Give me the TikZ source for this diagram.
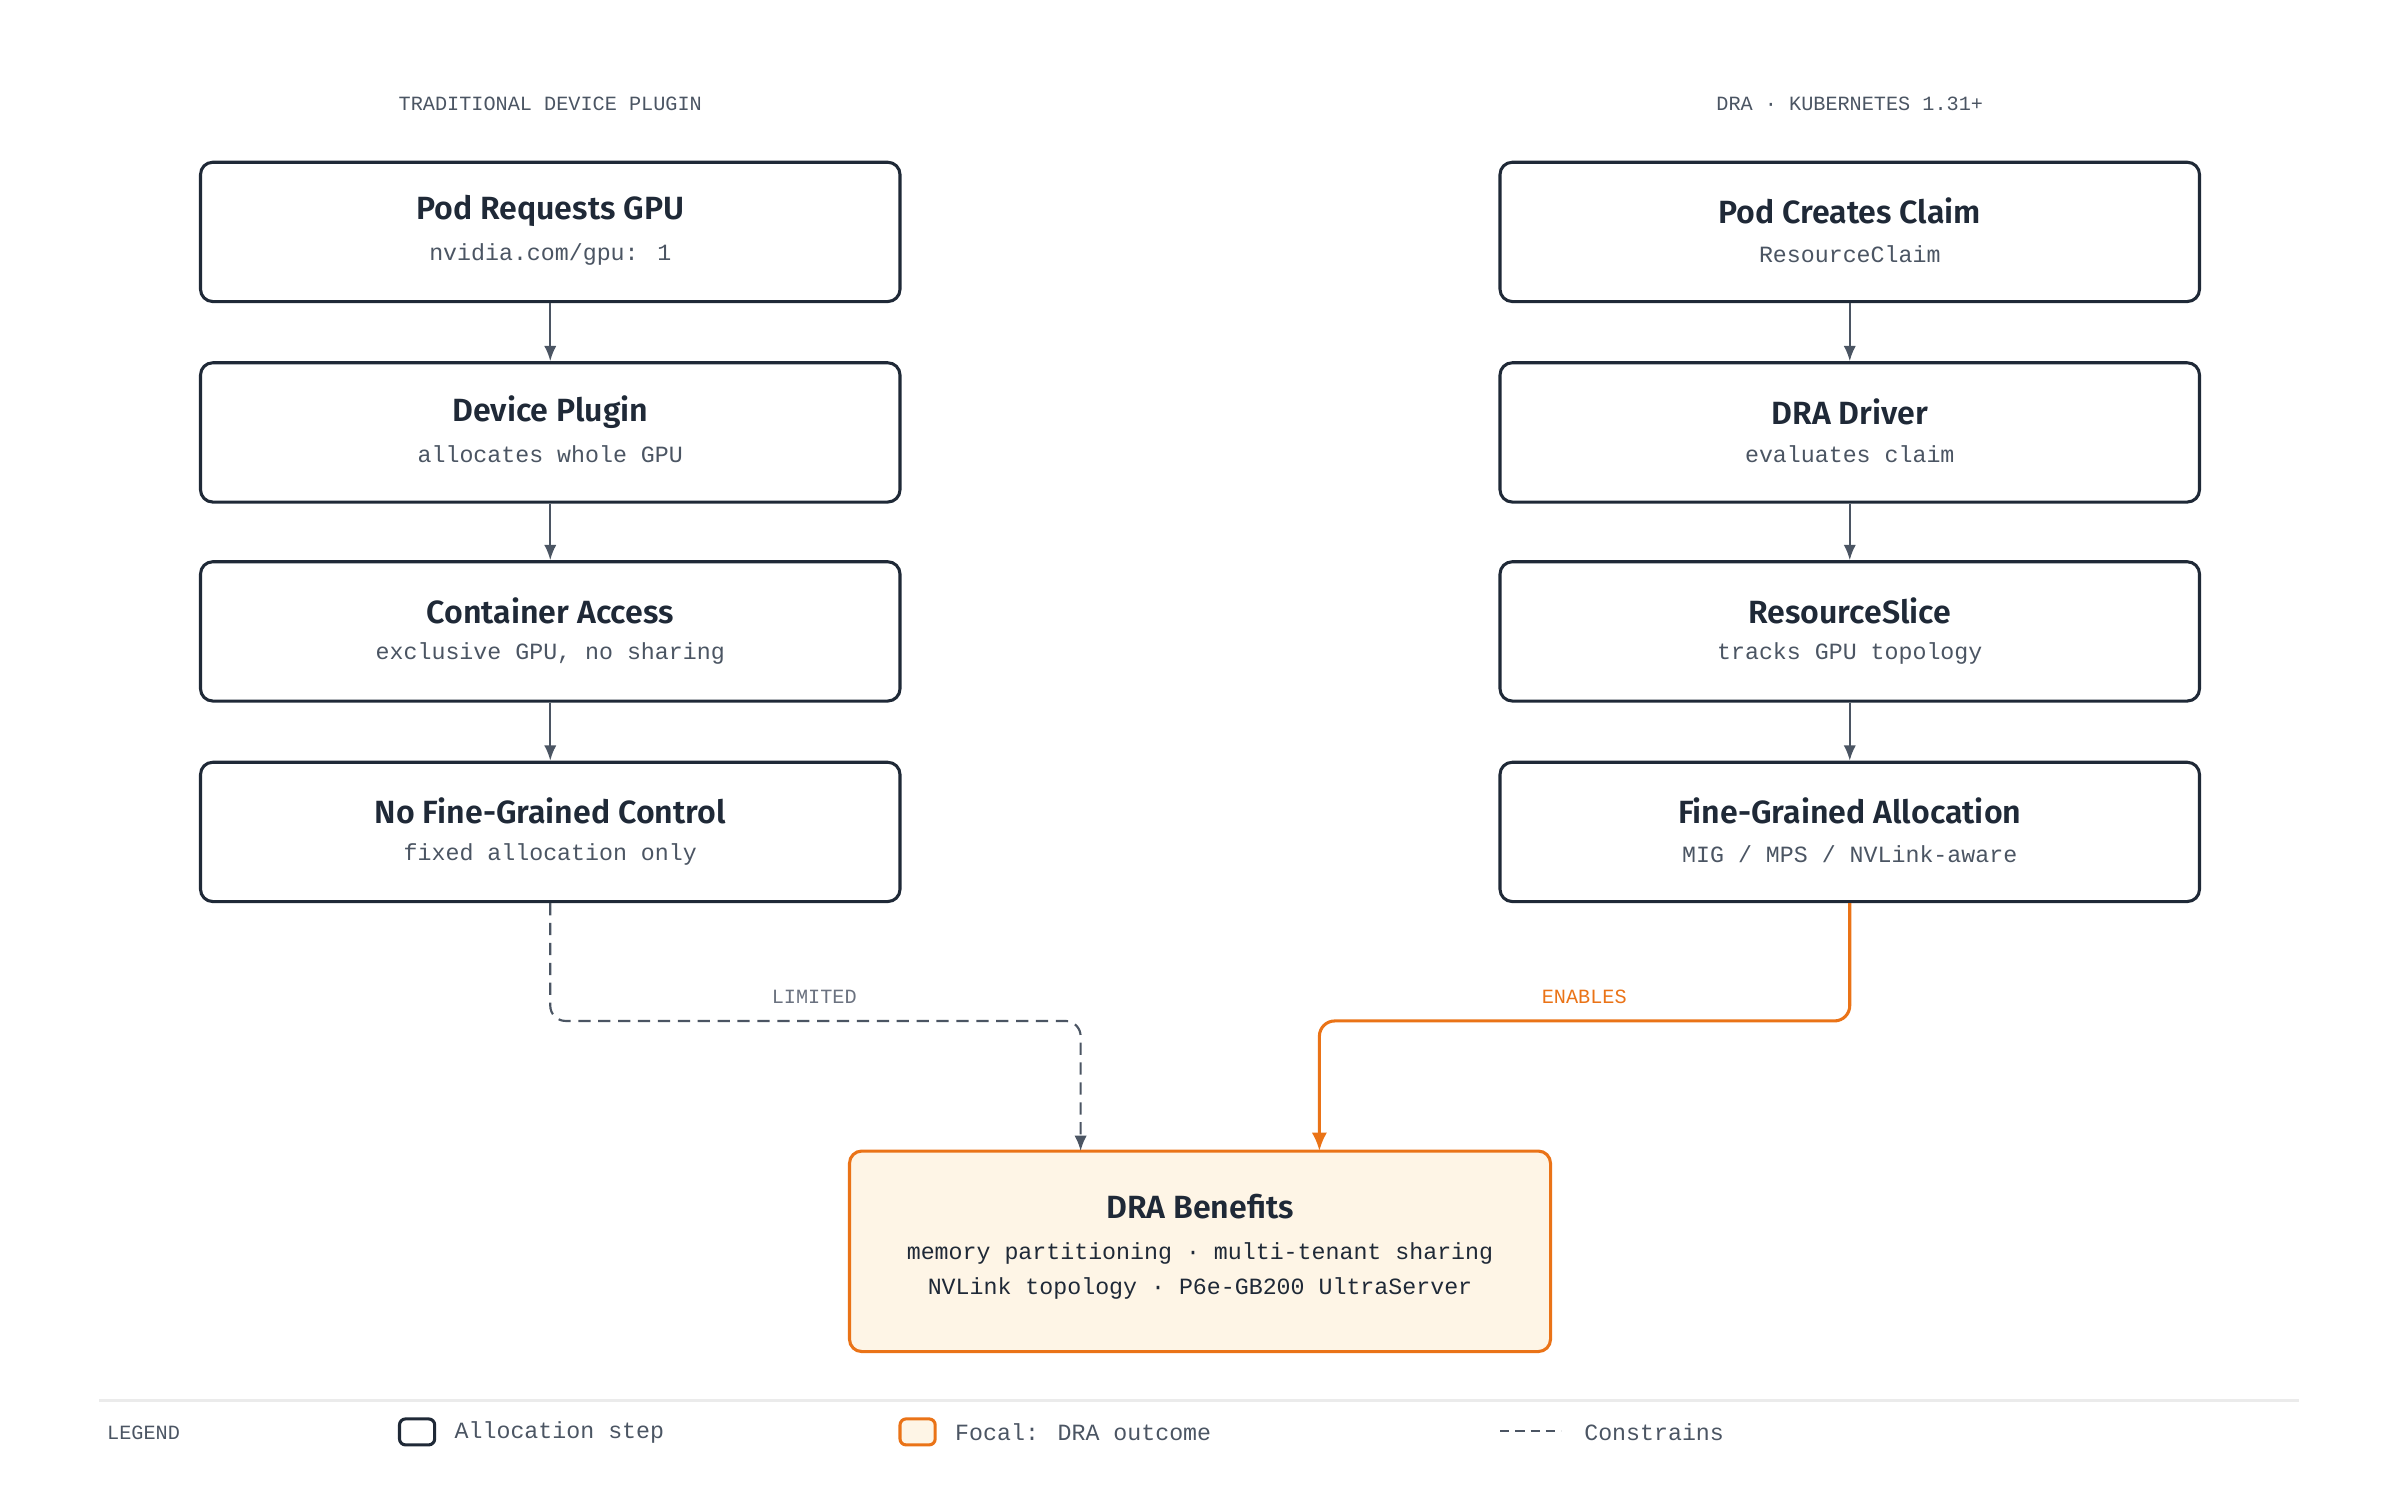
\documentclass[tikz,border=0pt]{standalone}
\usepackage{fontspec}
\setmainfont{Fira Sans}[BoldFont={Fira Sans SemiBold}]
\newfontfamily\monof{Liberation Mono}
\usetikzlibrary{arrows.meta}
\definecolor{navy}{HTML}{1F2937}
\definecolor{greyt}{HTML}{4B5563}
\definecolor{lgrey}{HTML}{6B7280}
\definecolor{orng}{HTML}{EA7317}
\definecolor{cream}{HTML}{FEF5E6}
\tikzset{
 stepbox/.style={draw=navy,line width=1pt,rounded corners=4pt,fill=white,minimum width=228.5pt,minimum height=45.5pt},
 focalbox/.style={draw=orng,line width=1pt,rounded corners=4pt,fill=cream,minimum width=229pt,minimum height=65.5pt},
 ttl/.style={font=\fontsize{10.5}{12}\selectfont\bfseries,text=navy},
 sub/.style={font=\monof\fontsize{7.6}{9}\selectfont,text=greyt},
 hdr/.style={font=\monof\fontsize{6.6}{8}\selectfont,text=greyt},
 arr/.style={draw=greyt,line width=0.7pt,-{Latex[length=5pt,width=4pt]}},
}
\begin{document}
\begin{tikzpicture}[x=0.5pt,y=-0.5pt]
\useasboundingbox (0,0) rectangle (1568,981);
\node[hdr] (h1) at (359.5,68) {TRADITIONAL DEVICE PLUGIN};
\node[hdr] (h2) at (1208.5,68) {DRA · KUBERNETES 1.31+};
\foreach \n/\y/\t/\s in {a1/151.5/{Pod Requests GPU}/{nvidia.com/gpu: 1},a2/282.5/{Device Plugin}/{allocates whole GPU},a3/412.5/{Container Access}/{exclusive GPU, no sharing},a4/543.5/{No Fine-Grained Control}/{fixed allocation only}}{
 \node[stepbox] (\n) at (359.5,\y) {};
 \node[ttl] at (359.5,\y-13.5) {\t};
 \node[sub] at (359.5,\y+14.5) {\s};
}
\foreach \n/\y/\t/\s in {b1/151.5/{Pod Creates Claim}/{ResourceClaim},b2/282.5/{DRA Driver}/{evaluates claim},b3/412.5/{ResourceSlice}/{tracks GPU topology},b4/543.5/{Fine-Grained Allocation}/{MIG / MPS / NVLink-aware}}{
 \node[stepbox] (\n) at (1208.5,\y) {};
 \node[ttl] at (1208.5,\y-13.5) {\t};
 \node[sub] at (1208.5,\y+14.5) {\s};
}
\draw[arr] (a1) -- (a2); \draw[arr] (a2) -- (a3); \draw[arr] (a3) -- (a4);
\draw[arr] (b1) -- (b2); \draw[arr] (b2) -- (b3); \draw[arr] (b3) -- (b4);
\node[focalbox] (c) at (784,817.5) {};
\node[ttl] at (784,788) {DRA Benefits};
\node[sub,text=navy] at (784,819) {memory partitioning · multi-tenant sharing};
\node[sub,text=navy] at (784,842) {NVLink topology · P6e-GB200 UltraServer};
\coordinate (ct1) at (706,752);
\coordinate (ct2) at (862,752);
\draw[arr,dash pattern=on 4pt off 2.5pt,rounded corners=5pt] (a4.south) -- (359.5,667) -- (706,667) -- (ct1);
\draw[arr,draw=orng,line width=1pt,rounded corners=5pt,-{Latex[length=6pt,width=5pt,fill=orng]}] (b4.south) -- (1208.5,667) -- (862,667) -- (ct2);
\node[hdr,text=lgrey] (l1) at (532,651) {LIMITED};
\node[hdr,text=orng] (l2) at (1035,651) {ENABLES};
\draw[draw=black!8,line width=0.7pt] (65,915) -- (1502,915);
\node[hdr,anchor=west] (lg) at (63,936) {LEGEND};
\draw[draw=navy,line width=1pt,rounded corners=2pt] (261,927) rectangle (284,944);
\node[sub,anchor=west] (lg1) at (290,936) {Allocation step};
\draw[draw=orng,fill=cream,line width=1pt,rounded corners=2pt] (588,927) rectangle (611,944);
\node[sub,anchor=west] (lg2) at (617,936) {Focal: DRA outcome};
\draw[draw=greyt,line width=0.7pt,dash pattern=on 3pt off 2pt] (980,935) -- (1020,935);
\node[sub,anchor=west] (lg3) at (1028,936) {Constrains};
\end{tikzpicture}
\end{document}
